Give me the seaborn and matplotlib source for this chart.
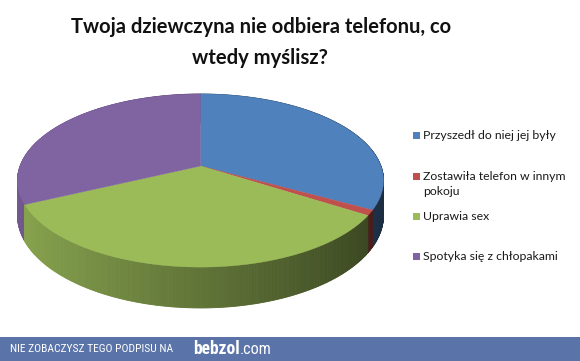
import numpy as np
import matplotlib
matplotlib.use("Agg")
import matplotlib.pyplot as plt
import seaborn as sns
from matplotlib.patches import Polygon, Rectangle
from matplotlib.colors import to_rgb
from matplotlib import font_manager

# ---- data ----
title_lines = ["Twoja dziewczyna nie odbiera telefonu, co", "wtedy myślisz?"]
labels = ["Przyszedł do niej jej były", "Zostawiła telefon w innym\npokoju",
          "Uprawia sex", "Spotyka się z chłopakami"]
values = [33, 1, 34, 32]
colors = ["#4F81BD", "#C0504D", "#9BBB59", "#8064A2"]
banner_text = "NIE ZOBACZYSZ TEGO PODPISU NA"
banner_brand = "bebzol"
banner_tld = ".com"

sns.set_theme(style="white")
plt.rcParams['font.family'] = ['Lato', 'DejaVu Sans']

installed = {f.name for f in font_manager.fontManager.ttflist}
narrow = next((n for n in ["Liberation Sans Narrow", "DejaVu Sans Condensed", "Roboto Condensed", "Roboto"]
               if n in installed), "DejaVu Sans")

W, H = 580, 361
fig = plt.figure(figsize=(W / 100, H / 100), dpi=100)
ax = fig.add_axes([0, 0, 1, 1])
ax.set_xlim(0, W)
ax.set_ylim(H, 0)
ax.axis('off')
renderer = fig.canvas.get_renderer()


def fit_text(x, y, s, width, ha='left', va='center', **kw):
    t = ax.text(x, y, s, ha=ha, va=va, fontsize=10, **kw)
    w = t.get_window_extent(renderer).width
    t.set_fontsize(10 * width / w)
    return t


# ---- 3D pie geometry (pseudo-perspective) ----
CX, CY = 200.5, 166.0
A, B, K, D = 180.4, 84.1, 0.168, 34.0


def proj(phi, z=0.0):
    u = np.sin(phi)
    v = -np.cos(phi)
    s = 1.0 / (1.0 - K * v)
    return CX + A * u * s, CY + (B * v + D * z) * s


def shade(c, f):
    r, g, b = to_rgb(c)
    return (min(r * f, 1), min(g * f, 1), min(b * f, 1))


vals = np.array(values, dtype=float)
bounds = np.concatenate([[0], np.cumsum(vals) / vals.sum() * 2 * np.pi])

# side segments (painter's order: back to front)
segs = []
for i in range(len(vals)):
    a0, a1 = bounds[i], bounds[i + 1]
    n = max(2, int(np.degrees(a1 - a0) / 0.5))
    ang = np.linspace(a0, a1, n + 1)
    for p0, p1 in zip(ang[:-1], ang[1:]):
        pm = 0.5 * (p0 + p1)
        segs.append((-np.cos(pm), i, p0, p1, pm))
segs.sort(key=lambda s: s[0])
for _, i, p0, p1, pm in segs:
    f = 0.62 - 0.28 * np.sin(pm)
    col = shade(colors[i], f)
    pts = [proj(p0, 0), proj(p1, 0), proj(p1, 1), proj(p0, 1)]
    ax.add_patch(Polygon(pts, closed=True, facecolor=col, edgecolor=col, lw=0.6))

# top faces
for i in range(len(vals)):
    a0, a1 = bounds[i], bounds[i + 1]
    ang = np.linspace(a0, a1, 200)
    pts = [(CX, CY)] + [proj(p, 0) for p in ang]
    ax.add_patch(Polygon(pts, closed=True, facecolor=colors[i], edgecolor=colors[i], lw=0.3))

# ---- title ----
fit_text(261, 27, title_lines[0], 380, ha='center', fontweight='bold', color='#111111')
fit_text(260, 58, title_lines[1], 136, ha='center', fontweight='bold', color='#111111')

# ---- legend ----
leg_y = [135.5, 176.7, 216.7, 256.7]
t0 = ax.text(423, 0, labels[0], va='center', fontsize=10)
fs = 10 * 133 / t0.get_window_extent(renderer).width
t0.remove()
for lab, col, y in zip(labels, colors, leg_y):
    ax.add_patch(Rectangle((413, y - 3.5), 7, 7, facecolor=col, edgecolor='none'))
    for j, line in enumerate(lab.split("\n")):
        ax.text(423, y + 15 * j, line, va='center', fontsize=fs, color='#1a1a1a')

# ---- banner ----
ax.add_patch(Rectangle((0, 337), W, H - 337, facecolor='#5A73A8', edgecolor='none'))
fit_text(10, 349, banner_text, 163, color='white', family=[narrow, 'DejaVu Sans'])
tb = fit_text(193, 354, banner_brand, 47, va='baseline', color='white', fontweight='bold',
              family=[narrow, 'DejaVu Sans'])
bx = ax.transData.inverted().transform((tb.get_window_extent(renderer).x1, 0))[0]
fit_text(bx + 0.5, 354, banner_tld, 272 - bx - 0.5, va='baseline', color='white',
         family=[narrow, 'DejaVu Sans'])

fig.savefig("out.png", dpi=100, facecolor='white')
